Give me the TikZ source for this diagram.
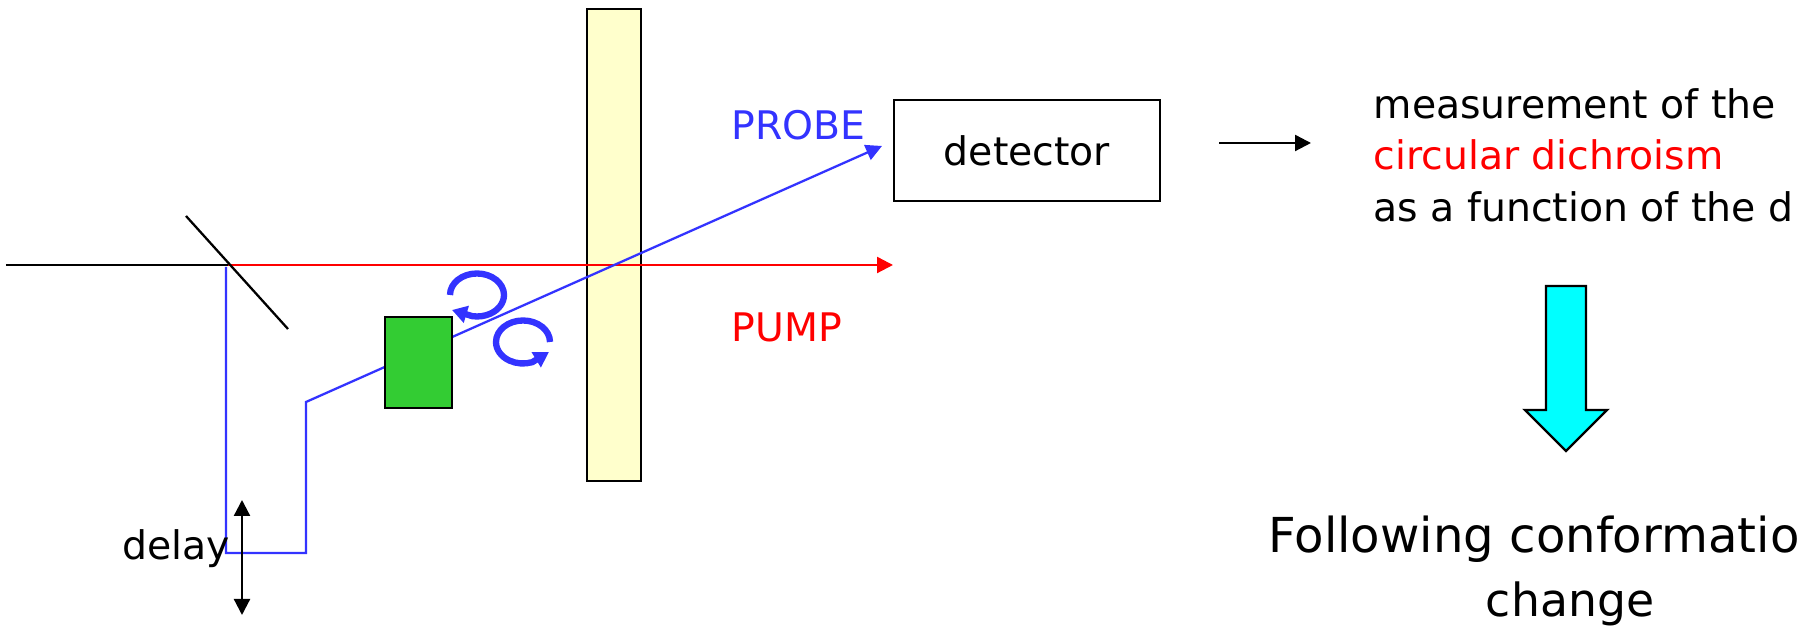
\documentclass[tikz,border=0pt]{standalone}
\usepackage{fontspec}
\setmainfont{DejaVu Sans}
\usetikzlibrary{arrows.meta}
\definecolor{probeblue}{RGB}{51,51,255}
\definecolor{samplegreen}{RGB}{51,204,51}
\definecolor{cellyellow}{RGB}{255,255,204}
\definecolor{arrowcyan}{RGB}{0,255,255}
\newcommand{\smalltext}{\fontsize{11.2}{14}\selectfont}
\newcommand{\bigtext}{\fontsize{13}{16}\selectfont}
\newcommand{\followtext}{\fontsize{13.7}{16}\selectfont}
\tikzset{
	label text/.style={inner sep=0pt,anchor=base west,font=\smalltext},
	big text/.style={inner sep=0pt,font=\bigtext},
	beam/.style={line width=0.65pt},
	tip/.style={-{Triangle[length=1.6mm,width=1.6mm]}},
	circ arrow/.style={probeblue,line width=1.8pt,-{Triangle[length=1.5mm,width=1.7mm]}}
}

\begin{document}
\begin{tikzpicture}
					\clip (0,0) rectangle (17.97,6.30);
					%CELL
					\draw[beam,fill=cellyellow] (5.87,1.49) rectangle (6.41,6.21);
					%BEAMS
					\coordinate (laser) at (0.06,3.65);
					\coordinate (split) at (2.28,3.65);
					\coordinate (pumpend) at (8.93,3.65);
					\coordinate (mirrorA) at (1.86,4.14);
					\coordinate (mirrorB) at (2.88,3.01);
					\coordinate (delayA) at (2.26,0.77);
					\coordinate (delayB) at (3.06,0.77);
					\coordinate (delayC) at (3.06,2.28);
					\coordinate (probeend) at (8.82,4.84);
					\draw[beam,red,tip] (split) -- (pumpend);
					\draw[beam,probeblue,tip] (2.26,3.63) -- (delayA) -- (delayB) -- (delayC) -- (probeend);
					\draw[beam] (laser) -- (split);
					\draw[beam] (mirrorA) -- (mirrorB);
					%SAMPLE
					\draw[beam,fill=samplegreen] (3.85,2.22) rectangle (4.52,3.13);
					%POLARISATION
					\coordinate (circA) at (4.50,3.35);
					\coordinate (circB) at (5.50,2.88);
					\coordinate (circAtip) at (4.52,3.20);
					\coordinate (circBtip) at (5.49,2.78);
					\draw[circ arrow] (circA) arc (180:-100:0.27 and 0.215) -- (circAtip);
					\draw[circ arrow] (circB) arc (0:290:0.27 and 0.215) -- (circBtip);
					%DELAY
					\coordinate (stageup) at (2.42,1.30);
					\coordinate (stagedown) at (2.42,0.15);
					\draw[beam,{Triangle[length=1.6mm,width=1.6mm]}-{Triangle[length=1.6mm,width=1.6mm]}] (stageup) -- (stagedown);
					\node[label text] (delay) at (1.22,0.70) {delay};
					%LABELS
					\node[label text,probeblue] (probe) at (7.31,4.90) {PROBE};
					\node[label text,red] (pump) at (7.31,2.88) {PUMP};
					\node[draw,line width=0.65pt,minimum width=2.66cm,minimum height=1.01cm,inner sep=0pt,font=\smalltext] (detector) at (10.27,4.795) {detector};
					%RESULT
					\coordinate (resultA) at (12.19,4.87);
					\coordinate (resultB) at (13.11,4.87);
					\draw[beam,tip] (resultA) -- (resultB);
					\node[label text] (line1) at (13.73,5.11) {measurement of the};
					\node[label text,red] (line2) at (13.73,4.60) {circular dichroism};
					\node[label text] (line3) at (13.73,4.08) {as a function of the d};
					\draw[beam,fill=arrowcyan] (15.46,3.44) -- (15.86,3.44) -- (15.86,2.20) -- (16.07,2.20) -- (15.66,1.79) -- (15.25,2.20) -- (15.46,2.20) -- cycle;
					\node[big text,anchor=base west,font=\followtext] (follow) at (12.68,0.77) {Following conformatio};
					\node[big text,anchor=base] (change) at (15.70,0.13) {change};
\end{tikzpicture}
\end{document}
